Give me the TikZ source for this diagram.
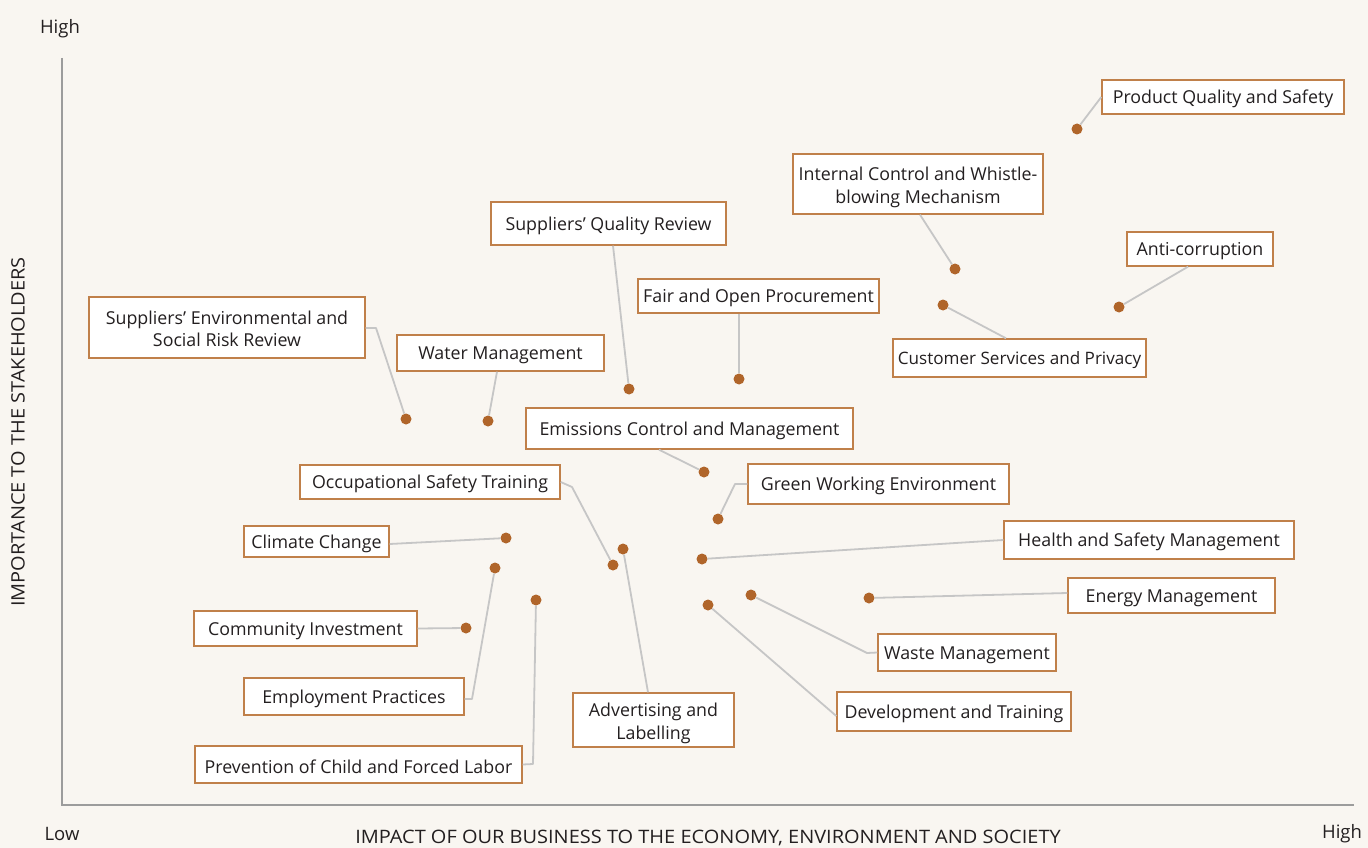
\documentclass[tikz,border=0pt]{standalone}
\usepackage{fontspec}
\setmainfont{Open Sans}
\definecolor{bg}{HTML}{F9F6F1}
\definecolor{boxc}{HTML}{C0804A}
\definecolor{dotc}{HTML}{B0652A}
\definecolor{linec}{HTML}{C6C6C6}
\definecolor{axisc}{HTML}{9C9C9C}
\definecolor{txt}{HTML}{231F20}
\newcommand{\twolines}[2]{\raisebox{-3.5pt}[\height][\depth]{\begin{tabular}{@{}c@{}}#1\\#2\end{tabular}}}
\begin{document}
\begin{tikzpicture}[x=1pt,y=-1pt,
  lbl/.style={draw=boxc, line width=1.4pt, fill=white, inner sep=0pt, align=center, text=txt, font=\fontsize{17.8}{22.5}\selectfont, execute at begin node={\rule{0pt}{18pt}}},
  lbltwo/.style={draw=boxc, line width=1.4pt, fill=white, inner sep=0pt, text=txt, font=\fontsize{17.8}{22.5}\selectfont},
  dotn/.style={circle, fill=dotc, inner sep=0pt, minimum size=11pt},
  conn/.style={draw=linec, line width=1.8pt, line join=round},
  axislbl/.style={text=txt, inner sep=0pt, font=\fontsize{18.5}{22}\selectfont}]
\useasboundingbox (0,0) rectangle (1368,848);
\fill[bg] (0,0) rectangle (1368,848);

% axes
\coordinate (ytop) at (62,58);
\coordinate (orig) at (62,805);
\coordinate (xend) at (1354,805);
\draw[axisc, line width=2pt] (ytop) -- (orig) -- (xend);
\node[axislbl] (hightop) at (60,28.5) {High};
\node[axislbl] (low) at (62,834) {Low};
\node[axislbl] (highright) at (1342,834) {High};
\node[axislbl] (xlab) at (708,838) {\scalebox{1.08}[1]{IMPACT OF OUR BUSINESS TO THE ECONOMY, ENVIRONMENT AND SOCIETY}};
\node[axislbl, rotate=90] (ylab) at (18,432) {\scalebox{1.08}[1]{IMPORTANCE TO THE STAKEHOLDERS}};

% dots
\node[dotn] (d1) at (1077,129) {};
\node[dotn] (d2) at (955,269) {};
\node[dotn] (d3) at (629,389) {};
\node[dotn] (d4) at (1119,307) {};
\node[dotn] (d5) at (739,379) {};
\node[dotn] (d6) at (943,305) {};
\node[dotn] (d7) at (406,419) {};
\node[dotn] (d8) at (488,421) {};
\node[dotn] (d9) at (704,472) {};
\node[dotn] (d10) at (613,565) {};
\node[dotn] (d11) at (718,519) {};
\node[dotn] (d12) at (506,538) {};
\node[dotn] (d13) at (702,559) {};
\node[dotn] (d14) at (869,598) {};
\node[dotn] (d15) at (466,628) {};
\node[dotn] (d16) at (495,568) {};
\node[dotn] (d17) at (536,600) {};
\node[dotn] (d18) at (623,549) {};
\node[dotn] (d19) at (751,595) {};
\node[dotn] (d20) at (708,605) {};

% boxes
\node[lbl, minimum width=242pt, minimum height=34pt] (b1) at (1223,97) {Product Quality and Safety};
\node[lbltwo, minimum width=250pt, minimum height=60pt] (b2) at (918,184) {\twolines{Internal Control and Whistle-}{blowing Mechanism}};
\node[lbl, minimum width=235pt, minimum height=43pt] (b3) at (608.5,223.5) {Suppliers’ Quality Review};
\node[lbl, minimum width=146pt, minimum height=34pt] (b4) at (1200,249) {Anti-corruption};
\node[lbl, minimum width=241pt, minimum height=34pt] (b5) at (758.5,296) {Fair and Open Procurement};
\node[lbl, minimum width=253pt, minimum height=38pt, font=\fontsize{17.1}{22.5}\selectfont] (b6) at (1019.5,358) {Customer Services and Privacy};
\node[lbltwo, minimum width=276pt, minimum height=61pt] (b7) at (227,327.5) {\twolines{Suppliers’ Environmental and}{Social Risk Review}};
\node[lbl, minimum width=207pt, minimum height=36pt] (b8) at (500.5,353) {Water Management};
\node[lbl, minimum width=327pt, minimum height=41pt] (b9) at (689.5,428.5) {Emissions Control and Management};
\node[lbl, minimum width=260pt, minimum height=34pt] (b10) at (430,482) {Occupational Safety Training};
\node[lbl, minimum width=261pt, minimum height=40pt] (b11) at (878.5,484) {Green Working Environment};
\node[lbl, minimum width=145pt, minimum height=31pt] (b12) at (316.5,541.5) {Climate Change};
\node[lbl, minimum width=290pt, minimum height=38pt] (b13) at (1149,540) {Health and Safety Management};
\node[lbl, minimum width=207pt, minimum height=35pt] (b14) at (1171.5,595.5) {Energy Management};
\node[lbl, minimum width=223pt, minimum height=35pt] (b15) at (305.5,628.5) {Community Investment};
\node[lbl, minimum width=220pt, minimum height=37pt] (b16) at (354,696.5) {Employment Practices};
\node[lbl, minimum width=327pt, minimum height=37pt] (b17) at (358.5,764.5) {Prevention of Child and Forced Labor};
\node[lbltwo, minimum width=161pt, minimum height=54pt] (b18) at (653.5,720) {\twolines{Advertising and}{Labelling}};
\node[lbl, minimum width=178pt, minimum height=37pt] (b19) at (967,652.5) {Waste Management};
\node[lbl, minimum width=234pt, minimum height=39pt] (b20) at (954,711.5) {Development and Training};

% connector anchor points on boxes
\coordinate (c1) at (b1.west);
\coordinate (c2) at ([xshift=2pt]b2.south);
\coordinate (c3) at ([xshift=4.5pt]b3.south);
\coordinate (c4) at ([xshift=-12pt]b4.south);
\coordinate (c5) at ([xshift=-19.5pt]b5.south);
\coordinate (c6) at ([xshift=-13.5pt]b6.north);
\coordinate (c7a) at ([yshift=-0.5pt]b7.east);
\coordinate (k7) at (376,328);
\coordinate (c8) at ([xshift=-3.5pt]b8.south);
\coordinate (c9) at ([xshift=-30.5pt]b9.south);
\coordinate (c10) at (b10.east);
\coordinate (k10) at (572,487);
\coordinate (c11) at (b11.west);
\coordinate (k11) at (735,484);
\coordinate (c12) at ([yshift=-2.5pt]b12.east);
\coordinate (c13) at (b13.west);
\coordinate (c14) at ([yshift=2.5pt]b14.west);
\coordinate (c15) at (b15.east);
\coordinate (c16) at ([yshift=-2.5pt]b16.east);
\coordinate (k16) at (472,699);
\coordinate (c17) at (b17.east);
\coordinate (k17) at (533,764);
\coordinate (c18) at ([xshift=-5.5pt]b18.north);
\coordinate (c19) at (b19.west);
\coordinate (k19) at (867,653);
\coordinate (c20) at ([yshift=-4.5pt]b20.west);

% connectors
\draw[conn] (c1) -- (d1);
\draw[conn] (c2) -- (d2);
\draw[conn] (c3) -- (d3);
\draw[conn] (c4) -- (d4);
\draw[conn] (c5) -- (d5);
\draw[conn] (c6) -- (d6);
\draw[conn] (c7a) -- (k7) -- (d7);
\draw[conn] (c8) -- (d8);
\draw[conn] (c9) -- (d9);
\draw[conn] (c10) -- (k10) -- (d10);
\draw[conn] (c11) -- (k11) -- (d11);
\draw[conn] (c12) -- (d12);
\draw[conn] (c13) -- (d13);
\draw[conn] (c14) -- (d14);
\draw[conn] (c15) -- (d15);
\draw[conn] (c16) -- (k16) -- (d16);
\draw[conn] (c17) -- (k17) -- (d17);
\draw[conn] (c18) -- (d18);
\draw[conn] (c19) -- (k19) -- (d19);
\draw[conn] (c20) -- (d20);
\end{tikzpicture}
\end{document}
